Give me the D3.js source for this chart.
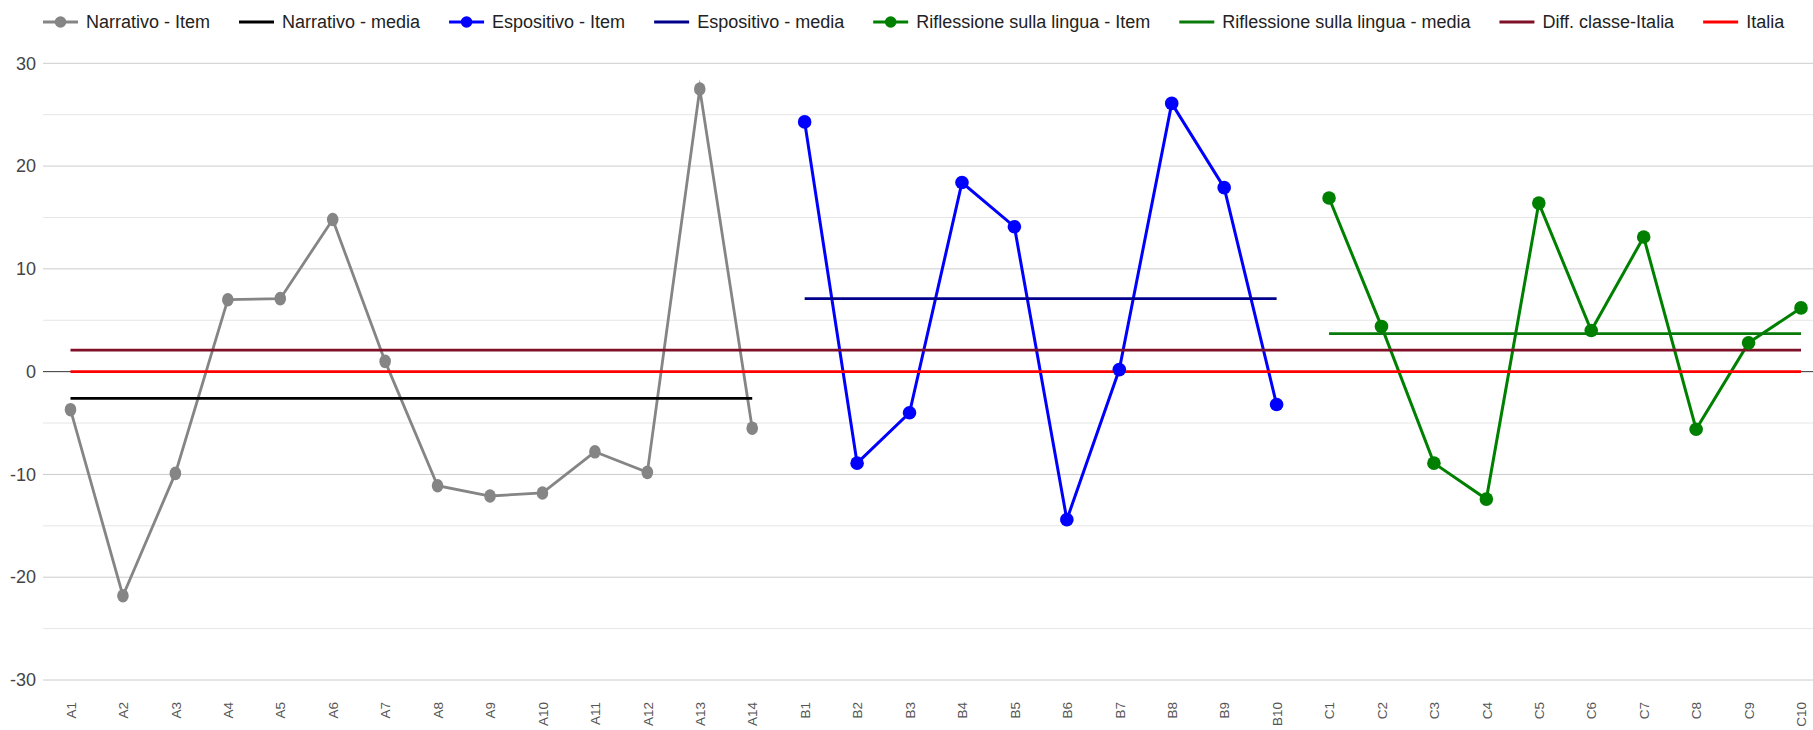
<!DOCTYPE html>
<html>
<head>
<meta charset="utf-8">
<script src="https://cdn.jsdelivr.net/npm/d3@7"></script>
<style>
  body { margin: 0; background: #fff; }
  svg { display: block; }
  text { font-family: "Liberation Sans", Arial, sans-serif; }
</style>
</head>
<body>
<svg id="chart" width="1813" height="730"></svg>
<script>
// ---------------- DATA ----------------
const catA = ["A1","A2","A3","A4","A5","A6","A7","A8","A9","A10","A11","A12","A13","A14"];
const catB = ["B1","B2","B3","B4","B5","B6","B7","B8","B9","B10"];
const catC = ["C1","C2","C3","C4","C5","C6","C7","C8","C9","C10"];
const categories = catA.concat(catB, catC);

const narrativoItem = [-3.7, -21.8, -9.9, 7.0, 7.1, 14.8, 1.0, -11.1, -12.1, -11.8, -7.8, -9.8, 27.5, -5.5];
const espositivoItem = [24.3, -8.9, -4.0, 18.4, 14.1, -14.4, 0.2, 26.1, 17.9, -3.2];
const riflessioneItem = [16.9, 4.4, -8.9, -12.4, 16.4, 4.0, 13.1, -5.6, 2.8, 6.2];

const narrativoMedia = -2.6;
const espositivoMedia = 7.1;
const riflessioneMedia = 3.7;
const diffClasseItalia = 2.1;
const italia = 0;

const yMajorTicks = [-30, -20, -10, 0, 10, 20, 30];
const yMinorTicks = [-25, -15, -5, 5, 15, 25];

const legendLabels = ["Narrativo - Item", "Narrativo - media", "Espositivo - Item", "Espositivo - media",
  "Riflessione sulla lingua - Item", "Riflessione sulla lingua - media", "Diff. classe-Italia", "Italia"];

// ---------------- STYLE ----------------
const colors = {
  narrItem: "#858585", narrMedia: "#000000",
  espItem: "#0000ff", espMedia: "#00008b",
  rifItem: "#008000", rifMedia: "#0a7a0a",
  diff: "#7f1028", italia: "#ff0000"
};

const svg = d3.select("#chart");
const plotLeft = 43, plotRight = 1813;
const x = d3.scalePoint().domain(categories).range([70.5, 1801]);
const y = d3.scaleLinear().domain([-30, 30]).range([680, 63.3]);

// Grid
const grid = svg.append("g");
grid.selectAll("line.minor").data(yMinorTicks).join("line")
  .attr("x1", plotLeft).attr("x2", plotRight)
  .attr("y1", d => y(d)).attr("y2", d => y(d))
  .attr("stroke", "#e6e6e6").attr("stroke-width", 1);
grid.selectAll("line.major").data(yMajorTicks.filter(d => d !== 0)).join("line")
  .attr("x1", plotLeft).attr("x2", plotRight)
  .attr("y1", d => y(d)).attr("y2", d => y(d))
  .attr("stroke", "#cccccc").attr("stroke-width", 1);
// baseline
grid.append("line")
  .attr("x1", plotLeft).attr("x2", plotRight)
  .attr("y1", y(0)).attr("y2", y(0))
  .attr("stroke", "#333333").attr("stroke-width", 1);

// Y axis
const yAxis = svg.append("g").attr("transform", `translate(${plotLeft},0)`)
  .call(d3.axisLeft(y).tickValues(yMajorTicks).tickSize(0).tickPadding(7).tickFormat(d => String(d)));
yAxis.select(".domain").remove();
yAxis.selectAll("text").attr("font-size", 18).attr("fill", "#444")
  .style("font-family", '"Liberation Sans", Arial, sans-serif');

// X axis
const xAxis = svg.append("g").attr("transform", "translate(0,702)")
  .call(d3.axisBottom(x).tickSize(0));
xAxis.select(".domain").remove();
xAxis.selectAll("text")
  .attr("transform", "rotate(-90)")
  .attr("x", 0).attr("y", 0).attr("dy", "0.35em")
  .attr("text-anchor", "end")
  .attr("font-size", 13.5).attr("fill", "#555")
  .style("font-family", '"Liberation Sans", Arial, sans-serif');

// Lines
const line = d3.line().x(d => x(d.c)).y(d => y(d.v));
const zipSeries = (cats, vals) => cats.map((c, i) => ({ c, v: vals[i] }));
const flatSeries = (cats, v) => [{ c: cats[0], v }, { c: cats[cats.length - 1], v }];

const narrData = zipSeries(catA, narrativoItem);
const espData = zipSeries(catB, espositivoItem);
const rifData = zipSeries(catC, riflessioneItem);

const series = [
  { data: narrData, color: colors.narrItem, w: 2.8 },
  { data: flatSeries(catA, narrativoMedia), color: colors.narrMedia, w: 2.8 },
  { data: espData, color: colors.espItem, w: 3 },
  { data: flatSeries(catB, espositivoMedia), color: colors.espMedia, w: 2.8 },
  { data: rifData, color: colors.rifItem, w: 3 },
  { data: flatSeries(catC, riflessioneMedia), color: colors.rifMedia, w: 2.8 },
  { data: flatSeries(categories, diffClasseItalia), color: colors.diff, w: 2.8 },
  { data: flatSeries(categories, italia), color: colors.italia, w: 2.8 }
];
const lines = svg.append("g");
series.forEach(s => {
  lines.append("path").attr("d", line(s.data))
    .attr("fill", "none").attr("stroke", s.color).attr("stroke-width", s.w)
    .attr("stroke-linejoin", "miter").attr("stroke-miterlimit", 10);
});

// Points
const pts = svg.append("g");
pts.selectAll("ellipse.n").data(narrData).join("ellipse")
  .attr("cx", d => x(d.c)).attr("cy", d => y(d.v))
  .attr("rx", 5.8).attr("ry", 6.8).attr("fill", colors.narrItem);
pts.selectAll("circle.e").data(espData).join("circle")
  .attr("cx", d => x(d.c)).attr("cy", d => y(d.v))
  .attr("r", 6.8).attr("fill", colors.espItem);
pts.selectAll("circle.r").data(rifData, d => d.c).join("circle")
  .attr("cx", d => x(d.c)).attr("cy", d => y(d.v))
  .attr("r", 6.8).attr("fill", colors.rifItem);

// Legend
const legendSpec = [
  { color: colors.narrItem, dot: true },
  { color: colors.narrMedia, dot: false },
  { color: colors.espItem, dot: true },
  { color: colors.espMedia, dot: false },
  { color: colors.rifItem, dot: true },
  { color: colors.rifMedia, dot: false },
  { color: colors.diff, dot: false },
  { color: colors.italia, dot: false }
];
const legend = svg.append("g");
let lx = 43;
const ly = 22;
legendLabels.forEach((label, i) => {
  const spec = legendSpec[i];
  const g = legend.append("g");
  g.append("line").attr("x1", lx).attr("x2", lx + 35).attr("y1", ly).attr("y2", ly)
    .attr("stroke", spec.color).attr("stroke-width", 3);
  if (spec.dot) {
    g.append("circle").attr("cx", lx + 17.5).attr("cy", ly).attr("r", 5.8).attr("fill", spec.color);
  }
  const t = g.append("text").attr("x", lx + 43).attr("y", ly + 6.3)
    .attr("font-size", 18).attr("fill", "#222").text(label);
  const w = t.node().getComputedTextLength();
  lx = lx + 43 + w + 29;
});
</script>
</body>
</html>
